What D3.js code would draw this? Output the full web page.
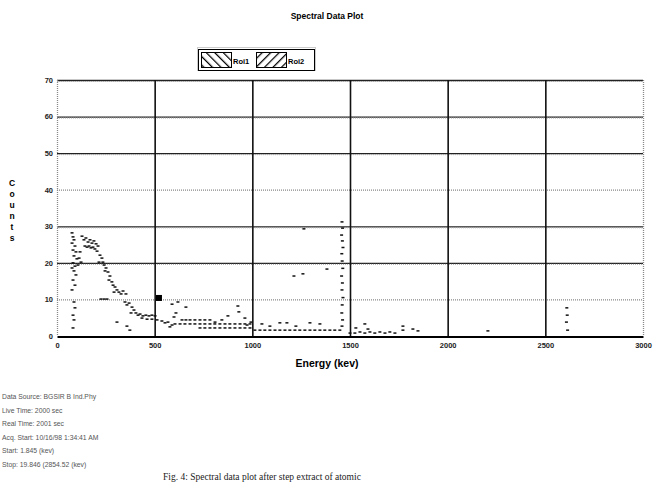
<!DOCTYPE html>
<html>
<head>
<meta charset="utf-8">
<script src="https://cdn.jsdelivr.net/npm/d3@7"></script>
<style>
  body { margin: 0; background: #fff; }
  svg { display: block; font-family: Arial, "Liberation Sans", sans-serif; }
</style>
</head>
<body>
<svg id="chart"></svg>
<script>
// Data (energy in kev, counts)
const xTicks = [0, 500, 1000, 1500, 2000, 2500, 3000];
const yTicks = [0, 10, 20, 30, 40, 50, 60, 70];
const dottedY = [10, 40]; // light dotted grid rows

// low energy scatter near 80 kev
const energyA = [77, 82, 87, 77, 92, 82, 97, 87, 102, 82, 92, 77, 87, 97, 82, 92, 77, 87, 92, 82, 87, 82];
const countsA = [28.2, 27.1, 26.3, 25.4, 24.6, 23.5, 23.0, 21.9, 21.1, 20.0, 19.1, 18.6, 17.8, 16.7, 15.3, 13.9, 12.6, 9.3, 7.7, 5.7, 4.4, 2.2];

// hump 110-220 kev
const energyB = [128, 138, 148, 159, 169, 179, 189, 200, 210, 143, 154, 164, 174, 184, 194, 205, 118, 113, 123, 107];
const countsB = [27.3, 26.3, 26.8, 25.7, 26.3, 25.4, 26.0, 25.2, 24.6, 24.6, 24.3, 24.6, 24.1, 24.3, 23.8, 23.2, 23.0, 21.3, 20.2, 19.4];

// falling edge 220-520 kev
const energyC = [220, 230, 215, 235, 241, 251, 246, 261, 271, 266, 281, 287, 297, 307, 317, 328, 292, 338, 353, 225, 241, 256,
                 348, 358, 369, 384, 394, 379, 404, 415, 425, 440, 455, 471, 486, 502, 435, 461, 486, 512, 307, 358, 373];
const countsC = [22.1, 21.3, 20.2, 20.2, 19.4, 18.6, 17.8, 17.5, 16.4, 15.3, 14.8, 13.9, 13.4, 12.6, 12.0, 11.5, 12.0, 12.3, 11.5, 10.1, 10.1, 10.1,
                 9.3, 8.5, 9.0, 7.9, 7.1, 6.3, 6.3, 5.7, 6.0, 5.5, 5.7, 5.5, 5.7, 5.5, 4.9, 4.6, 4.6, 4.4, 3.8, 2.7, 1.6];

// tail 520-1000 kev
const energyD = [537, 553, 568, 589, 619, 660, 609, 599, 589, 578,
                 640, 660, 681, 706, 732, 757, 783,
                 604, 630, 655, 681, 706, 732, 757, 783, 808, 834, 860, 885, 911, 937, 962, 988,
                 926, 931, 962, 993, 973, 875, 844, 809];
const countsD = [4.1, 3.6, 3.8, 8.7, 9.3, 7.9, 6.3, 5.2, 3.0, 2.5,
                 4.4, 4.4, 4.4, 4.4, 4.4, 4.4, 4.4,
                 3.3, 3.3, 3.3, 3.3, 3.3, 3.3, 3.3, 3.3, 3.3, 3.3, 3.3, 3.3, 3.3, 3.3, 3.3, 3.3,
                 8.2, 6.6, 4.9, 3.8, 3.0, 5.5, 4.4, 3.8];

// flat floor 730-1450 kev
const energyE = [732, 757, 783, 808, 834, 860, 885, 911, 937, 962, 988, 1013, 1039, 1064, 1090, 1116, 1141, 1167, 1192, 1218, 1243, 1269,
                 1295, 1320, 1346, 1371, 1397, 1422, 1448,
                 1049, 1141, 1177, 1295, 1346, 1090, 1223, 1213, 1259, 1382, 1264];
const countsE = [2.2, 2.2, 2.2, 2.2, 2.2, 2.2, 2.2, 2.2, 2.2, 2.2, 2.2, 1.6, 1.6, 1.6, 1.6, 1.6, 1.6, 1.6, 1.6, 1.6, 1.6, 1.6,
                 1.6, 1.6, 1.6, 1.6, 1.6, 1.6, 1.6,
                 3.3, 3.6, 3.6, 3.6, 3.3, 2.7, 2.7, 16.4, 17.0, 18.3, 29.3];

// 1460 kev peak column
const energyF = [1459, 1462, 1457, 1461, 1464, 1458, 1460, 1463, 1457, 1461, 1459, 1464, 1460, 1458, 1462, 1459];
const countsF = [31.2, 29.5, 27.6, 26.0, 24.2, 22.5, 20.5, 18.5, 16.4, 14.5, 12.6, 10.5, 8.5, 6.3, 4.4, 2.7];

// above 1500 kev
const energyG = [1500, 1525, 1551, 1576, 1602, 1627, 1653, 1679, 1704, 1730, 1576, 1592, 1771, 1771, 1822, 1848, 1530, 2206, 2610, 2612, 2608, 2614];
const countsG = [0.8, 0.8, 1.1, 0.8, 1.1, 0.8, 1.1, 0.8, 1.1, 0.8, 3.3, 1.9, 2.7, 1.6, 1.9, 1.4, 2.2, 1.4, 7.7, 5.7, 3.8, 1.6];

const bigMarkE = [522];
const bigMarkC = [10.4];

const legendNames = ["Roi1", "Roi2"];
const infoLines = [
  "Data Source: BGSIR B Ind.Phy",
  "Live Time: 2000 sec",
  "Real Time: 2001 sec",
  "Acq. Start: 10/16/98 1:34:41 AM",
  "Start: 1.845 (kev)",
  "Stop: 19.846 (2854.52 (kev)"
];

const W = 654, H = 483;
const svg = d3.select("#chart").attr("width", W).attr("height", H);

const x = d3.scaleLinear().domain([0, 3000]).range([57, 643]);
const y = d3.scaleLinear().domain([0, 70]).range([336, 80]);

// Title
svg.append("text")
  .attr("x", 327).attr("y", 19)
  .attr("text-anchor", "middle")
  .style("font-size", "8.5px").style("font-weight", "bold")
  .text("Spectral Data Plot");

// Legend with hatched swatches
const defs = svg.append("defs");
const pat1 = defs.append("pattern").attr("id", "hatch1")
  .attr("patternUnits", "userSpaceOnUse").attr("width", 6).attr("height", 6)
  .attr("patternTransform", "rotate(-45)");
pat1.append("rect").attr("width", 6).attr("height", 6).attr("fill", "#fff");
pat1.append("line").attr("x1", 0).attr("y1", 0).attr("x2", 0).attr("y2", 6).attr("stroke", "#000").attr("stroke-width", 2.5);
const pat2 = defs.append("pattern").attr("id", "hatch2")
  .attr("patternUnits", "userSpaceOnUse").attr("width", 6).attr("height", 6)
  .attr("patternTransform", "rotate(45)");
pat2.append("rect").attr("width", 6).attr("height", 6).attr("fill", "#fff");
pat2.append("line").attr("x1", 0).attr("y1", 0).attr("x2", 0).attr("y2", 6).attr("stroke", "#000").attr("stroke-width", 2.5);

svg.append("rect").attr("x", 197.5).attr("y", 47.5).attr("width", 118).attr("height", 23)
  .attr("fill", "none").attr("stroke", "#999").attr("stroke-dasharray", "1,1");
svg.append("rect").attr("x", 198.5).attr("y", 49.5).attr("width", 116).attr("height", 21)
  .attr("fill", "none").attr("stroke", "#000");

legendNames.forEach((name, i) => {
  const lx = 201 + i * 55;
  svg.append("rect").attr("x", lx + 0.5).attr("y", 52.5).attr("width", 30).attr("height", 15)
    .attr("fill", `url(#hatch${i + 1})`).attr("stroke", "#000");
  svg.append("text").attr("x", lx + 32).attr("y", 63.5)
    .style("font-size", "7.5px").style("font-weight", "bold").text(name);
});

// Grid
const grid = svg.append("g");
yTicks.filter(d => d > 0).forEach(d => {
  const dotted = dottedY.includes(d);
  grid.append("line")
    .attr("x1", x(0)).attr("x2", x(3000))
    .attr("y1", y(d) + 0.5).attr("y2", y(d) + 0.5)
    .attr("stroke", dotted ? "#888" : "#222")
    .attr("stroke-width", dotted ? 1.2 : 1.3)
    .attr("stroke-dasharray", dotted ? "1,1" : null);
  if (!dotted) {
    grid.append("line")
      .attr("x1", x(0)).attr("x2", x(3000))
      .attr("y1", y(d) + 1.5).attr("y2", y(d) + 1.5)
      .attr("stroke", "#aaa").attr("stroke-dasharray", "1,1");
  }
});
xTicks.forEach(d => {
  const edge = d === 0 || d === 3000;
  grid.append("line")
    .attr("x1", x(d) + 0.5).attr("x2", x(d) + 0.5)
    .attr("y1", y(70)).attr("y2", y(0))
    .attr("stroke", edge ? "#888" : "#111")
    .attr("stroke-width", edge ? 1.3 : 1.6)
    .attr("stroke-dasharray", edge ? "1,1" : null);
});

// Axes
const xAxis = svg.append("g")
  .attr("transform", `translate(0,${y(0) + 0.5})`)
  .call(d3.axisBottom(x).tickValues(xTicks).tickSize(0).tickPadding(6).tickFormat(d3.format("d")));
xAxis.select(".domain").attr("stroke", "#000").attr("stroke-width", 2);
xAxis.selectAll("text").style("font-size", "7.5px").style("font-weight", "bold").attr("fill", "#222");

const yAxis = svg.append("g")
  .attr("transform", `translate(${x(0)},0)`)
  .call(d3.axisLeft(y).tickValues(yTicks).tickSize(0).tickPadding(4).tickFormat(d3.format("d")));
yAxis.select(".domain").remove();
yAxis.selectAll("text").style("font-size", "7.5px").style("font-weight", "bold").attr("fill", "#222");

// Axis labels
svg.append("text")
  .attr("x", 327).attr("y", 367)
  .attr("text-anchor", "middle")
  .style("font-size", "10.5px").style("font-weight", "bold")
  .text("Energy (kev)");

const yLabel = svg.append("text")
  .attr("x", 12).attr("text-anchor", "middle")
  .style("font-size", "8.5px").style("font-weight", "bold");
"Counts".split("").forEach((ch, i) => {
  yLabel.append("tspan").attr("x", 12).attr("y", 186 + i * 11).text(ch);
});

// Data points
const sets = [
  [energyA, countsA], [energyB, countsB], [energyC, countsC], [energyD, countsD],
  [energyE, countsE], [energyF, countsF], [energyG, countsG]
];
const pts = [];
sets.forEach(([es, cs]) => es.forEach((e, i) => pts.push([e, cs[i]])));

svg.append("g").selectAll("rect")
  .data(pts)
  .enter()
  .append("rect")
  .attr("x", d => x(d[0]) - 1.5)
  .attr("y", d => y(d[1]) - 0.75)
  .attr("width", 3)
  .attr("height", 1.5)
  .attr("fill", "#111");

svg.append("g").selectAll("rect")
  .data(bigMarkE.map((e, i) => [e, bigMarkC[i]]))
  .enter()
  .append("rect")
  .attr("x", d => x(d[0]) - 3)
  .attr("y", d => y(d[1]) - 3)
  .attr("width", 6)
  .attr("height", 6)
  .attr("fill", "#000");

// Info block
svg.append("g").selectAll("text")
  .data(infoLines)
  .enter()
  .append("text")
  .attr("x", 2)
  .attr("y", (d, i) => 399 + i * 13.6)
  .style("font-size", "6.8px")
  .attr("fill", "#555")
  .text(d => d);

// Figure caption at the page bottom
svg.append("text")
  .attr("x", 163).attr("y", 480)
  .style("font-family", "'Liberation Serif', serif")
  .style("font-size", "9.5px")
  .attr("fill", "#222")
  .text("Fig. 4: Spectral data plot after step extract of atomic");
</script>
</body>
</html>
